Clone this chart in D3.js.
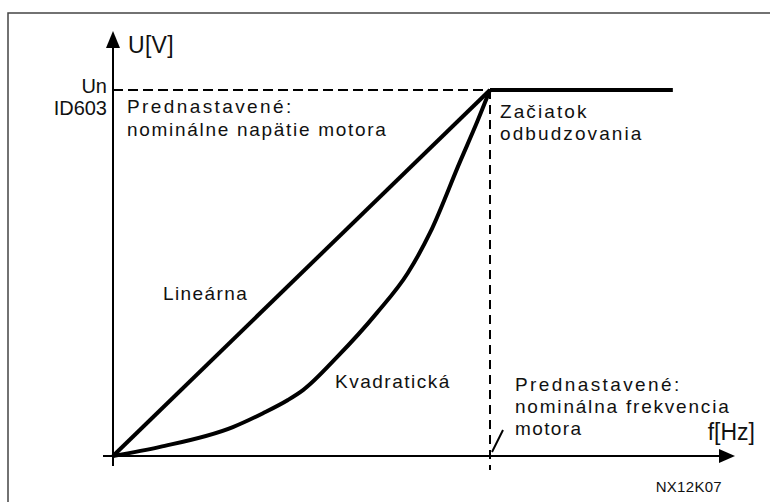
<!DOCTYPE html>
<html>
<head>
<meta charset="utf-8">
<script src="https://cdn.jsdelivr.net/npm/d3@7"></script>
<style>
  body { margin: 0; background: #fff; }
  svg { display: block; }
  text { font-family: "Liberation Sans", Arial, sans-serif; fill: #111; }
</style>
</head>
<body>
<div id="chart"></div>
<script>
// relative frequency f/fn and relative voltage U/Un
var linearF = [0, 1]
var linearU = [0, 1]
var quadF = [0, 0.125, 0.318, 0.398, 0.464, 0.504, 0.594, 0.700, 0.782, 0.841, 0.920, 0.966, 1]
var quadU = [0, 0.025, 0.079, 0.117, 0.153, 0.18, 0.270, 0.391, 0.500, 0.610, 0.803, 0.913, 1]
var flatF = [1, 1.485]
var flatU = [1, 1]

var width = 770, height = 502

var svg = d3.select('#chart').append('svg')
  .attr('width', width)
  .attr('height', height)

var x = d3.scaleLinear().domain([0, 1]).range([113, 490])
var y = d3.scaleLinear().domain([0, 1]).range([456, 90])

// frame
svg.append('path')
  .attr('d', 'M8,502 V13 H770')
  .attr('fill', 'none')
  .attr('stroke', '#444')
  .attr('stroke-width', 1.5)

// dashed guides
svg.append('line')
  .attr('x1', x(0)).attr('x2', x(1))
  .attr('y1', y(1)).attr('y2', y(1))
  .attr('stroke', '#000').attr('stroke-width', 2)
  .attr('stroke-dasharray', '10,5')

svg.append('line')
  .attr('x1', x(1)).attr('x2', x(1))
  .attr('y1', y(1)).attr('y2', 470)
  .attr('stroke', '#000').attr('stroke-width', 2)
  .attr('stroke-dasharray', '9,6')

// axes
svg.append('line')
  .attr('x1', 103).attr('x2', 722)
  .attr('y1', y(0)).attr('y2', y(0))
  .attr('stroke', '#000').attr('stroke-width', 2)
svg.append('path')
  .attr('d', 'M735,' + y(0) + ' L719,' + (y(0) - 7) + ' L719,' + (y(0) + 7) + ' Z')
  .attr('fill', '#000')

svg.append('line')
  .attr('x1', x(0)).attr('x2', x(0))
  .attr('y1', 466).attr('y2', 45)
  .attr('stroke', '#000').attr('stroke-width', 2)
svg.append('path')
  .attr('d', 'M' + x(0) + ',31 L' + (x(0) - 7) + ',48 L' + (x(0) + 7) + ',48 Z')
  .attr('fill', '#000')

// small slash mark on frequency axis
svg.append('line')
  .attr('x1', 492).attr('y1', 452)
  .attr('x2', 503).attr('y2', 430)
  .attr('stroke', '#000').attr('stroke-width', 2)

// curves
var line = d3.line()
  .x(function (d) { return x(d[0]) })
  .y(function (d) { return y(d[1]) })
  .curve(d3.curveMonotoneX)

function pairs (fs, us) {
  return fs.map(function (f, i) { return [f, us[i]] })
}

var curves = [pairs(linearF, linearU), pairs(quadF, quadU), pairs(flatF, flatU)]
svg.selectAll('path.curve')
  .data(curves)
  .enter().append('path')
  .attr('class', 'curve')
  .attr('d', line)
  .attr('fill', 'none')
  .attr('stroke', '#000')
  .attr('stroke-width', 4)
  .attr('stroke-linejoin', 'round')

// labels
var labels = [
  { t: 'U[V]', x: 128, y: 53, size: 23, anchor: 'start', ls: 0.3 },
  { t: 'Un', x: 107, y: 93, size: 20, anchor: 'end', ls: 0 },
  { t: 'ID603', x: 107, y: 115, size: 20, anchor: 'end', ls: 0 },
  { t: 'Prednastavené:', x: 127, y: 113, size: 19, anchor: 'start', ls: 2.4 },
  { t: 'nominálne napätie motora', x: 127, y: 136, size: 19, anchor: 'start', ls: 1.7 },
  { t: 'Začiatok', x: 500, y: 118, size: 19, anchor: 'start', ls: 2.1 },
  { t: 'odbudzovania', x: 500, y: 140, size: 19, anchor: 'start', ls: 2.1 },
  { t: 'Lineárna', x: 163, y: 300, size: 19, anchor: 'start', ls: 1.4 },
  { t: 'Kvadratická', x: 335, y: 388, size: 19, anchor: 'start', ls: 1.5 },
  { t: 'Prednastavené:', x: 515, y: 391, size: 19, anchor: 'start', ls: 2.4 },
  { t: 'nominálna frekvencia', x: 515, y: 413, size: 19, anchor: 'start', ls: 1.8 },
  { t: 'motora', x: 515, y: 435, size: 19, anchor: 'start', ls: 1.4 },
  { t: 'f[Hz]', x: 755, y: 440, size: 23, anchor: 'end', ls: 0 },
  { t: 'NX12K07', x: 722, y: 492, size: 15, anchor: 'end', ls: 0.3 }
]

svg.selectAll('text.label')
  .data(labels)
  .enter().append('text')
  .attr('class', 'label')
  .attr('x', function (d) { return d.x })
  .attr('y', function (d) { return d.y })
  .attr('font-size', function (d) { return d.size })
  .attr('letter-spacing', function (d) { return d.ls })
  .attr('text-anchor', function (d) { return d.anchor })
  .text(function (d) { return d.t })
</script>
</body>
</html>
